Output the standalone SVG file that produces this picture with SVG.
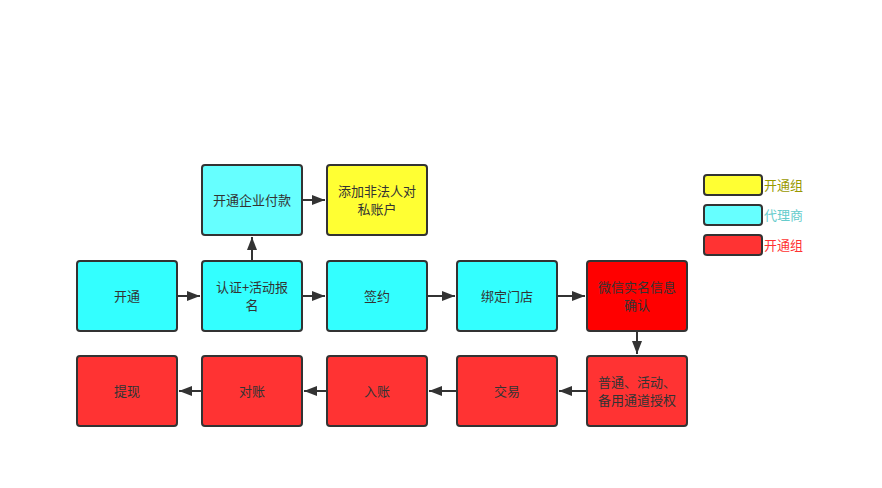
<svg xmlns="http://www.w3.org/2000/svg" width="882" height="488" viewBox="0 0 882 488">
<style>
.n{stroke:#333;stroke-width:2}
.t{font-family:"Microsoft YaHei","Noto Sans CJK SC",sans-serif;font-size:13px;fill:#333;text-anchor:middle}
.e{stroke:#333;stroke-width:2;fill:none;marker-end:url(#a)}
.lg{font-family:"Microsoft YaHei","Noto Sans CJK SC",sans-serif;font-size:13px}
</style>
<defs>
<marker id="a" markerWidth="14" markerHeight="12" refX="13" refY="6" orient="auto" markerUnits="userSpaceOnUse"><path d="M0,1 L13,6 L0,11 Z" fill="#333"/></marker>
</defs>
<rect width="882" height="488" fill="#fff"/>
<g id="edges">
<path class="e" d="M177,296 L200,296"/>
<path class="e" d="M302,296 L325,296"/>
<path class="e" d="M427,296 L455,296"/>
<path class="e" d="M557,296 L585,296"/>
<path class="e" d="M252,261 L252,237"/>
<path class="e" d="M302,200 L325,200"/>
<path class="e" d="M637,331 L637,354"/>
<path class="e" d="M587,391 L559,391"/>
<path class="e" d="M457,391 L429,391"/>
<path class="e" d="M327,391 L304,391"/>
<path class="e" d="M202,391 L179,391"/>
</g>
<g id="n1"><rect class="n" x="77" y="261" width="100" height="70" rx="3" fill="#33FFFF"/><text class="t" x="127" y="301">开通</text></g>
<g id="n2"><rect class="n" x="202" y="261" width="100" height="70" rx="3" fill="#33FFFF"/><text class="t" x="252" y="292">认证+活动报</text><text class="t" x="252" y="310">名</text></g>
<g id="n3"><rect class="n" x="327" y="261" width="100" height="70" rx="3" fill="#33FFFF"/><text class="t" x="377" y="301">签约</text></g>
<g id="n4"><rect class="n" x="457" y="261" width="100" height="70" rx="3" fill="#33FFFF"/><text class="t" x="507" y="301">绑定门店</text></g>
<g id="n5"><rect class="n" x="587" y="261" width="100" height="70" rx="3" fill="#FF0000"/><text class="t" x="637" y="292">微信实名信息</text><text class="t" x="637" y="310">确认</text></g>
<g id="n6"><rect class="n" x="202" y="165" width="100" height="70" rx="3" fill="#66FFFF"/><text class="t" x="252" y="205">开通企业付款</text></g>
<g id="n7"><rect class="n" x="327" y="165" width="100" height="70" rx="3" fill="#FFFF33"/><text class="t" x="377" y="196">添加非法人对</text><text class="t" x="377" y="214">私账户</text></g>
<g id="n8"><rect class="n" x="587" y="356" width="100" height="70" rx="3" fill="#FF3333"/><text class="t" x="637" y="387">普通、活动、</text><text class="t" x="637" y="405">备用通道授权</text></g>
<g id="n9"><rect class="n" x="457" y="356" width="100" height="70" rx="3" fill="#FF3333"/><text class="t" x="507" y="396">交易</text></g>
<g id="n10"><rect class="n" x="327" y="356" width="100" height="70" rx="3" fill="#FF3333"/><text class="t" x="377" y="396">入账</text></g>
<g id="n11"><rect class="n" x="202" y="356" width="100" height="70" rx="3" fill="#FF3333"/><text class="t" x="252" y="396">对账</text></g>
<g id="n12"><rect class="n" x="77" y="356" width="100" height="70" rx="3" fill="#FF3333"/><text class="t" x="127" y="396">提现</text></g>
<g id="legend">
<rect class="n" x="704" y="175" width="58" height="20" rx="3" fill="#FFFF33"/><text class="lg" x="764" y="190" fill="#999900">开通组</text>
<rect class="n" x="704" y="205" width="58" height="20" rx="3" fill="#66FFFF"/><text class="lg" x="764" y="220" fill="#66CCCC">代理商</text>
<rect class="n" x="704" y="235" width="58" height="20" rx="3" fill="#FF3333"/><text class="lg" x="764" y="250" fill="#FF3333">开通组</text>
</g>
</svg>
